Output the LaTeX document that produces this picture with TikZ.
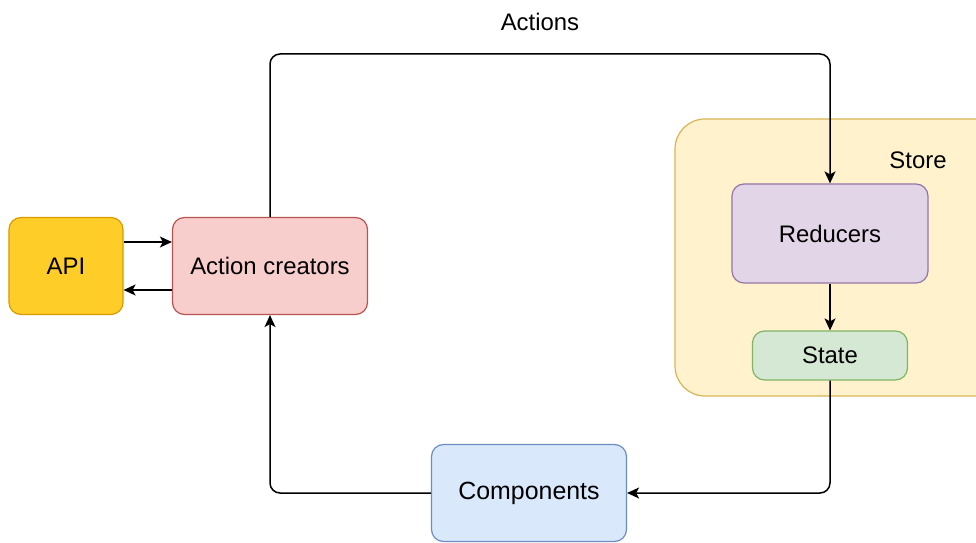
\documentclass[tikz,border=0pt]{standalone}
\usepackage{fontspec}
\setmainfont{Liberation Sans}
\usetikzlibrary{arrows.meta,calc}
\definecolor{apiF}{HTML}{FFCD28}\definecolor{apiD}{HTML}{D79B00}
\definecolor{acF}{HTML}{F8CECC}\definecolor{acD}{HTML}{B85450}
\definecolor{stF}{HTML}{FFF2CC}\definecolor{stD}{HTML}{D6B656}
\definecolor{reF}{HTML}{E1D5E7}\definecolor{reD}{HTML}{9673A6}
\definecolor{saF}{HTML}{D5E8D4}\definecolor{saD}{HTML}{82B366}
\definecolor{coF}{HTML}{DAE8FC}\definecolor{coD}{HTML}{6C8EBF}
\tikzset{
  box/.style={draw, line width=1.2bp, rounded corners=12bp, inner sep=0pt, align=center,
    font=\fontsize{24}{28}\selectfont},
  conn/.style={line width=1.5bp, rounded corners=10bp, -{Stealth[length=12bp,width=11bp,inset=3bp]}},
  lbl/.style={font=\fontsize{24}{28}\selectfont, inner sep=0pt},
}
\begin{document}
\begin{tikzpicture}[x=1bp,y=-1bp]
\clip (0,0) rectangle (976,543);
\fill[white] (0,0) rectangle (976,543);
\node[box, fill=stF, draw=stD, rounded corners=30bp, minimum width=340bp, minimum height=277bp] (store) at (845,257.5) {};
\node[lbl] (storelbl) at (918,160) {Store};
\node[box, fill=apiF, draw=apiD, minimum width=114bp, minimum height=97bp] (api) at (66,266) {API};
\node[box, fill=acF, draw=acD, minimum width=195bp, minimum height=97bp] (ac) at (270,266) {Action creators};
\node[box, fill=reF, draw=reD, minimum width=196bp, minimum height=99bp] (red) at (830,233.5) {Reducers};
\node[box, fill=saF, draw=saD, minimum width=155bp, minimum height=49bp] (st) at (830,355.5) {State};
\node[box, fill=coF, draw=coD, minimum width=195bp, minimum height=97bp, font=\fontsize{25}{29}\selectfont] (comp) at (529,493) {Components};
\node[lbl] (actlbl) at (540,22) {Actions};
\coordinate (topline) at (540,54);
\draw[conn] (ac.north) |- (topline) -| (red.north);
\draw[conn] (red.south) -- (st.north);
\draw[conn] (st.south) |- (comp.east);
\draw[conn] (comp.west) -| (ac.south);
\draw[conn] ($(api.east)+(0,-24)$) -- ($(ac.west)+(0,-24)$);
\draw[conn] ($(ac.west)+(0,24)$) -- ($(api.east)+(0,24)$);
\end{tikzpicture}
\end{document}
